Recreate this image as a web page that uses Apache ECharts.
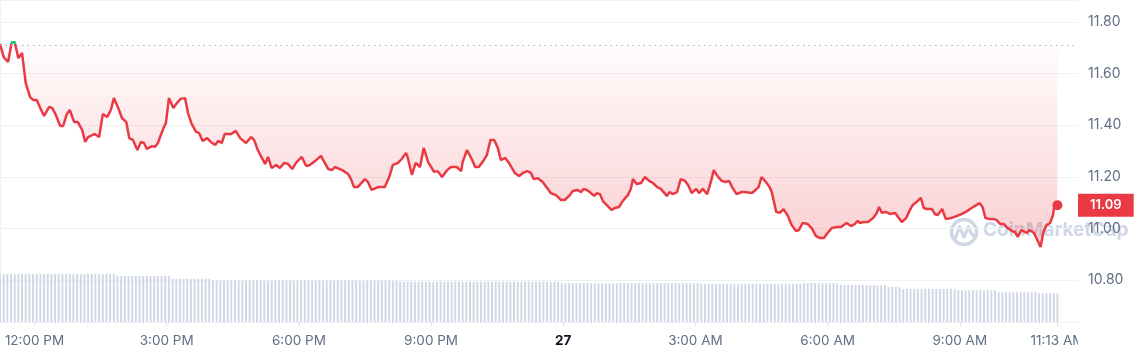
<!DOCTYPE html>
<html><head><meta charset="utf-8">
<script src="https://cdn.jsdelivr.net/npm/echarts@6/dist/echarts.min.js"></script>
<style>html,body{margin:0;padding:0;background:#fff}#c{width:1135px;height:355px}</style>
</head><body><div id="c"></div>
<script>
// minutes since 11:13 AM (day 26)
const priceMinutes = [
0,5,11,16,20,25,30,35,41,45,50,56,60,67,71,76,82,86,91,95,101,106,112,116,120,129,135,140,146,151,155,161,166,172,176,181,187,192,196,200,207,211,215,222,226,230,236,241,246,252,256,261,267,271,276,282,287,293,
297,302,306,315,321,327,335,342,346,351,361,365,370,376,381,387,392,398,403,411,417,422,429,437,447,452,456,466,474,478,482,487,497,501,506,515,524,530,535,542,547,553,555,561,566,572,577,583,585,
591,596,602,609,614,622,628,630,636,643,647,652,658,663,668,673,678,682,688,693,701,707,712,718,723,727,732,739,745,750,757,764,769,775,780,786,791,795,799,803,809,813,817,821,826,833,837,843,848,855,859,862,867,873,878,
884,889,895,900,908,912,916,922,927,933,937,942,948,952,957,963,968,972,978,983,987,993,997,1003,1010,1014,1024,1029,1033,1037,1043,1048,1051,1057,1062,1067,1073,1078,1084,1088,1093,1100,1106,1111,1116,1122,1127,1133,1140,1145,1149,1153,1159,1164,1168,1171,
1176,1182,1189,1194,1197,1201,1206,1212,1219,1223,1228,1234,1239,1243,1248,1254,1258,1262,1269,1273,1277,1283,1288,1295,1303,1310,1317,1323,1330,1334,1338,1342,1348,1353,1357,1362,1367,1372,1378,1382,1386,1391,1398,1402,1408,1412,1417,1421,1425,1430,1434,1436,1440
];
const prices = [
11.715,11.664,11.645,11.722,11.722,11.660,11.680,11.564,11.509,11.498,11.498,11.459,11.436,11.471,11.467,11.440,11.397,11.397,11.443,11.459,11.412,11.412,11.381,11.335,11.354,11.366,11.354,11.443,11.432,11.459,11.505,11.467,11.428,11.412,11.350,11.343,11.304,11.335,11.331,11.308,11.319,11.316,11.331,11.385,11.409,11.505,11.467,11.486,11.502,11.505,11.447,11.405,11.374,11.370,11.339,11.350,11.335,11.323,
11.339,11.331,11.366,11.366,11.378,11.350,11.331,11.354,11.343,11.304,11.250,11.277,11.234,11.246,11.234,11.254,11.250,11.230,11.254,11.277,11.242,11.246,11.261,11.281,11.230,11.226,11.238,11.226,11.211,11.191,11.160,11.160,11.191,11.180,11.149,11.160,11.160,11.199,11.246,11.254,11.269,11.292,11.277,11.207,11.254,11.238,11.312,11.257,11.254,
11.219,11.222,11.199,11.226,11.238,11.238,11.222,11.257,11.304,11.265,11.238,11.238,11.261,11.284,11.343,11.343,11.312,11.265,11.273,11.254,11.215,11.203,11.215,11.222,11.215,11.191,11.195,11.180,11.157,11.137,11.129,11.110,11.110,11.126,11.145,11.149,11.141,11.153,11.149,11.141,11.126,11.137,11.133,11.106,11.091,11.071,11.079,11.083,11.106,11.129,11.153,11.191,11.172,11.176,11.199,
11.184,11.176,11.160,11.153,11.126,11.141,11.133,11.141,11.191,11.184,11.168,11.137,11.153,11.137,11.153,11.133,11.180,11.226,11.199,11.184,11.180,11.184,11.160,11.133,11.141,11.141,11.137,11.149,11.160,11.199,11.180,11.160,11.141,11.064,11.060,11.075,11.048,11.013,10.990,10.994,11.021,11.017,10.998,10.971,10.963,10.963,10.982,11.002,11.005,11.005,11.013,11.021,11.009,11.017,11.029,11.021,
11.025,11.025,11.040,11.060,11.083,11.060,11.064,11.056,11.060,11.044,11.025,11.040,11.071,11.091,11.102,11.118,11.079,11.075,11.075,11.056,11.052,11.075,11.036,11.040,11.048,11.056,11.067,11.079,11.091,11.098,11.083,11.040,11.036,11.036,11.033,11.017,11.017,11.002,10.990,10.986,10.967,10.994,10.982,10.994,10.982,10.959,10.928,10.986,11.013,11.021,11.052,11.091,11.090
];
// 5-minute volume bars (relative units)
const volumeStepMinutes = 5;
const volumes = [
100,100,100,100,100,100,100,100,100,100,
100,100,100,100,100,100,100,100,100,100,
100,100,100,100,100,100,100,100,100,100,
100,100,
96,96,96,96,96,96,96,96,96,96,
96,96,96,96,96,
90,90,90,90,90,90,90,90,90,90,
90,
86,86,86,86,86,86,86,86,86,86,
86,86,86,86,86,86,86,86,86,86,
86,86,86,86,86,86,86,86,86,86,
86,86,86,86,86,86,86,86,86,86,
86,86,86,86,86,86,86,86,86,86,
86,
84,84,84,84,84,84,84,84,84,84,
84,84,84,84,84,84,84,84,84,84,
84,84,84,84,84,84,84,84,84,84,
84,84,84,84,84,84,84,84,84,84,
84,84,84,84,
81,81,81,81,81,81,81,81,81,81,
81,81,81,81,81,81,81,81,81,81,
81,81,81,81,81,81,81,81,81,81,
81,81,81,81,81,81,81,81,
79,79,79,79,79,79,79,79,79,79,
79,79,79,79,79,79,79,79,79,79,
79,79,79,79,79,79,79,79,
81,81,81,81,81,81,81,81,81,81,
77,77,77,77,77,77,77,77,77,77,
77,77,77,
73,73,73,73,
69,69,69,69,69,69,69,69,69,69,
69,69,69,69,69,
66,66,66,66,66,66,66,66,66,66,
66,
62,62,62,62,62,62,62,62,62,62,
62,
60,60,60,60,60,60
];
const xTickMinutes = [47, 227, 407, 587, 767, 947, 1127, 1307, 1440];
const xTickLabels = ['12:00 PM','3:00 PM','6:00 PM','9:00 PM','27','3:00 AM','6:00 AM','9:00 AM','11:13 AM'];
const openPrice = prices[0];
const lastPrice = prices[prices.length - 1];

const RED = '#ea3943', GREEN = '#16c784', GREY = '#616e85', GRID = '#eff2f5', WM = '#cfd6e4';
const FONT = 'Inter, "Noto Sans", sans-serif';

const lineData = priceMinutes.map((m, i) => i === prices.length - 1
  ? { value: [m, prices[i]], symbol: 'circle', symbolSize: 10, itemStyle: { color: RED } }
  : [m, prices[i]]);
const volData = volumes.map((v, i) => [i * volumeStepMinutes, v]);

const chart = echarts.init(document.getElementById('c'), null, { renderer: 'canvas' });
chart.setOption({
  animation: false,
  textStyle: { fontFamily: FONT },
  grid: [
    { left: 0, right: 57, top: 0, bottom: 33 },
    { left: 0, right: 57, top: 226, bottom: 33 }
  ],
  xAxis: [
    { type: 'value', gridIndex: 0, min: 0, max: 1468,
      axisLine: { show: true, lineStyle: { color: GRID } },
      axisTick: { show: true, length: 4, customValues: xTickMinutes, lineStyle: { color: '#dfe3ea' } },
      splitLine: { show: false },
      axisLabel: { customValues: xTickMinutes, margin: 12, color: GREY, fontSize: 13.5, fontFamily: FONT,
        formatter: v => { const i = xTickMinutes.indexOf(v); const t = i >= 0 ? xTickLabels[i] : '';
          return t === '27' ? '{b|27}' : t; },
        rich: { b: { fontWeight: 700, color: '#0d1421', fontSize: 13.5, fontFamily: FONT } } } },
    { type: 'value', gridIndex: 1, min: 0, max: 1468, show: false }
  ],
  yAxis: [
    { type: 'value', gridIndex: 0, position: 'right', min: 10.6372, max: 11.8853, scale: true,
      axisLine: { show: true, lineStyle: { color: GRID } },
      axisTick: { show: false },
      splitLine: { show: true, lineStyle: { color: GRID, width: 1 } },
      axisLabel: { showMinLabel: false, showMaxLabel: false, margin: 10, color: GREY, fontSize: 14, fontFamily: FONT,
        formatter: v => v.toFixed(2) } },
    { type: 'value', gridIndex: 1, min: 0, max: 200, show: false }
  ],
  visualMap: { type: 'piecewise', show: false, seriesIndex: 0, dimension: 1,
    pieces: [ { min: 10, max: openPrice, color: RED }, { gt: openPrice, lte: 13, color: GREEN } ] },
  graphic: [
    { type: 'circle', z: 0, shape: { cx: 964, cy: 232, r: 12.5 }, style: { fill: 'none', stroke: WM, lineWidth: 3.5 } },
    { type: 'polyline', z: 0, shape: { points: [[955, 239], [959.5, 227], [964, 237], [968.5, 227], [971, 233], [974, 236]] }, style: { fill: 'none', stroke: WM, lineWidth: 3.2, lineJoin: 'round', lineCap: 'round' } },
    { type: 'text', z: 0, left: 983, top: 221, style: { text: 'CoinMarketCap', fill: WM, font: '700 19px ' + FONT } },
    { type: 'rect', z: 100, shape: { x: 1078, y: 330, width: 14, height: 22 }, style: { fill: '#fff' } }
  ],
  series: [
    { type: 'line', xAxisIndex: 0, yAxisIndex: 0, data: lineData, symbol: 'none', showSymbol: true,
      lineStyle: { width: 2.5 }, z: 3, emphasis: { disabled: true },
      areaStyle: { origin: openPrice,
        color: { type: 'linear', x: 0, y: 0, x2: 0, y2: 1,
          colorStops: [ { offset: 0, color: 'rgba(234,57,67,0.02)' }, { offset: 1, color: 'rgba(234,57,67,0.34)' } ] } },
      markLine: { silent: true, symbol: 'none', animation: false, z: 10,
        data: [
          { yAxis: openPrice, lineStyle: { type: [1.5, 4], color: '#a7b1c2', width: 1 }, label: { show: false } },
          { yAxis: lastPrice, lineStyle: { color: 'rgba(0,0,0,0)', width: 0 },
            label: { show: true, position: 'end', distance: 0, formatter: lastPrice.toFixed(2),
              backgroundColor: RED, color: '#fff', fontSize: 13, fontWeight: 600, fontFamily: FONT,
              lineHeight: 13, padding: [5, 12, 5, 12] } }
        ] } },
    { type: 'bar', xAxisIndex: 1, yAxisIndex: 1, data: volData, barWidth: 2,
      itemStyle: { color: '#d1d8e5' }, emphasis: { disabled: true }, z: 1 }
  ]
});
</script>
</body></html>
